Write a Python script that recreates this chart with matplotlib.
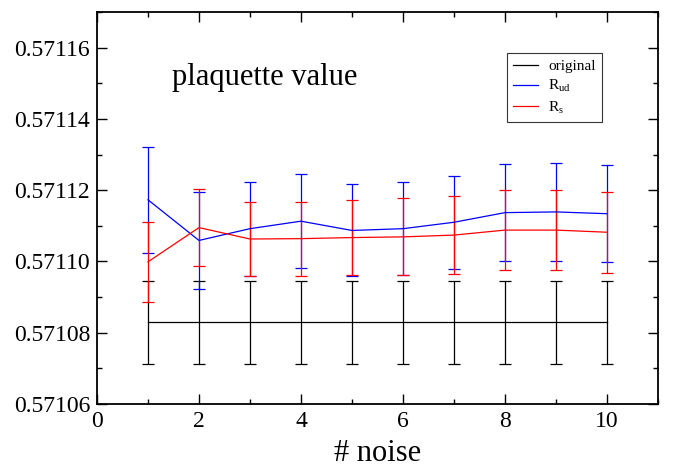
import numpy as np
import matplotlib
matplotlib.use('Agg')
import matplotlib.pyplot as plt
from matplotlib.lines import Line2D
from matplotlib.ticker import MultipleLocator, FormatStrFormatter

plt.rcParams['font.family'] = ['Liberation Serif', 'DejaVu Serif']
plt.rcParams['mathtext.default'] = 'regular'

#number of noise vectors
n_noise = [1, 2, 3, 4, 5, 6, 7, 8, 9, 10]

#plaquette without noise
orig_val = [0.5710829] * 10
orig_err = [0.0000116] * 10

#R_ud estimate
rud_val = [0.5711173, 0.5711059, 0.5711092, 0.5711113, 0.5711087,
           0.5711092, 0.5711110, 0.5711137, 0.5711139, 0.5711134]
rud_err = [0.0000149, 0.0000137, 0.0000132, 0.0000132, 0.0000129,
           0.0000130, 0.0000130, 0.0000136, 0.0000137, 0.0000136]

#R_s estimate
rs_val = [0.5710999, 0.5711095, 0.5711063, 0.5711064, 0.5711067,
          0.5711069, 0.5711074, 0.5711088, 0.5711088, 0.5711082]
rs_err = [0.0000112, 0.0000109, 0.0000104, 0.0000104, 0.0000106,
          0.0000108, 0.0000110, 0.0000113, 0.0000113, 0.0000113]

fig = plt.figure(figsize=(6.73, 4.70), dpi=100)
ax = fig.add_axes([0.1441, 0.1404, 0.8336, 0.8341])

series = [(orig_val, orig_err, 'black', 'original'),
          (rud_val, rud_err, 'blue', r'R$_{ud}$'),
          (rs_val, rs_err, 'red', r'R$_{s}$')]

handles = []
for val, err, col, lab in series:
    ax.errorbar(n_noise, val, yerr=err, color=col, lw=0.9, elinewidth=0.9,
                capsize=4, capthick=0.9)
    #plain line for the legend
    handles.append(Line2D([], [], color=col, lw=0.9, label=lab))

ax.set_xlim(0, 11)
ax.set_ylim(0.57106, 0.57117)

ax.xaxis.set_major_locator(MultipleLocator(2))
ax.xaxis.set_minor_locator(MultipleLocator(1))
ax.yaxis.set_major_locator(MultipleLocator(0.00002))
ax.yaxis.set_minor_locator(MultipleLocator(0.00001))
ax.yaxis.set_major_formatter(FormatStrFormatter('%.5f'))

ax.tick_params(which='both', direction='in', top=True, right=True, width=1.0)
ax.tick_params(which='major', length=7, labelsize=17, pad=5)
ax.tick_params(which='minor', length=3.5)
for sp in ax.spines.values():
    sp.set_linewidth(1.3)

ax.set_xlabel('# noise', fontsize=22, labelpad=5)

ax.text(0.134, 0.815, 'plaquette value', transform=ax.transAxes, fontsize=22)

leg = ax.legend(handles=handles, loc='upper left', bbox_to_anchor=(0.731, 0.895),
                borderaxespad=0, fontsize=11, frameon=True, fancybox=False,
                edgecolor='black', handlelength=1.6, borderpad=0.4,
                labelspacing=0.35, handletextpad=0.7)
leg.get_frame().set_linewidth(0.8)

plt.savefig('out.png', dpi=100)
